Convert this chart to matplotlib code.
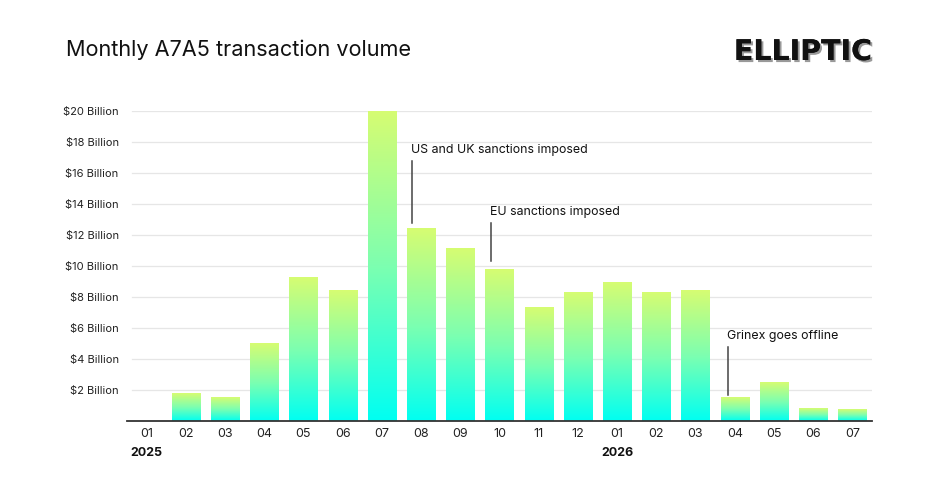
import matplotlib
matplotlib.use("Agg")
import matplotlib.pyplot as plt
import matplotlib.patheffects as pe
from matplotlib.colors import LinearSegmentedColormap
import numpy as np

# 데이터 (단위: 십억 달러)
months = ["01", "02", "03", "04", "05", "06", "07", "08", "09", "10", "11", "12",
          "01", "02", "03", "04", "05", "06", "07"]
volume = [0, 1.75, 1.5, 4.97, 9.25, 8.4, 20.0, 12.4, 11.15, 9.8, 7.3, 8.3,
          8.95, 8.3, 8.4, 1.5, 2.5, 0.78, 0.72]
years = [(0, "2025"), (12, "2026")]
# (x 위치, 문구, 글자 높이, 선 시작, 선 끝)
notes = [(6.77, "US and UK sanctions imposed", 17.5, 16.8, 12.8),
         (8.78, "EU sanctions imposed", 13.5, 12.8, 10.3),
         (14.82, "Grinex goes offline", 5.5, 4.8, 1.7)]
yticks = [2, 4, 6, 8, 10, 12, 14, 16, 18, 20]

plt.rcParams["font.family"] = ["Inter", "DejaVu Sans"]

fig = plt.figure(figsize=(9.4, 4.91), dpi=100)
ax = fig.add_axes([127 / 940, 70 / 491, 745 / 940, 310 / 491])

cmap = LinearSegmentedColormap.from_list("bar", ["#00fff2", "#7dffb0", "#d6fc72"])
grad = np.linspace(0, 1, 256).reshape(-1, 1)
w = 0.72
for i, v in enumerate(volume):
    if v <= 0:
        continue
    ax.imshow(grad, extent=[i - w / 2, i + w / 2, 0, v], origin="lower",
              cmap=cmap, aspect="auto", zorder=2)

ax.set_xlim(-0.5, len(months) - 0.5)
ax.set_ylim(0, 20)
ax.set_yticks(yticks)
ax.set_yticklabels([f"${t} Billion" for t in yticks], fontsize=8, color="#222222")
ax.set_xticks(range(len(months)))
ax.set_xticklabels(months, fontsize=9, color="#222222")
ax.tick_params(length=0, pad=5)
ax.tick_params(axis="y", pad=6)
for t in yticks:
    ax.axhline(t, xmin=0.007, color="#e6e6e6", lw=0.9, zorder=1)
for s in ["top", "right", "left"]:
    ax.spines[s].set_visible(False)
ax.spines["bottom"].set_color("#333333")
ax.spines["bottom"].set_linewidth(1.3)
ax.spines["bottom"].set_zorder(3)

for idx, yr in years:
    ax.text(idx, -2.05, yr, ha="center", va="center", fontsize=9,
            fontweight="bold", color="#111111")

for x, label, ytxt, y0, y1 in notes:
    ax.text(x - 0.03, ytxt, label, ha="left", va="center", fontsize=8.9, color="#111111")
    ax.plot([x, x], [y0, y1], color="#444444", lw=1.1, zorder=4)

fig.text(66 / 940, 1 - 50 / 491, "Monthly A7A5 transaction volume", fontsize=15.6,
         va="center", ha="left", color="#111111")
fig.text(872 / 940, 1 - 52 / 491, "ELLIPTIC", fontsize=20.5, fontweight="black",
         family="DejaVu Sans", ha="right", va="center", color="#111111",
         path_effects=[pe.withSimplePatchShadow(offset=(1.5, -1.5),
                                                shadow_rgbFace="#999999", alpha=1),
                       pe.Normal()])

fig.savefig("out.png", dpi=100, facecolor="white")
